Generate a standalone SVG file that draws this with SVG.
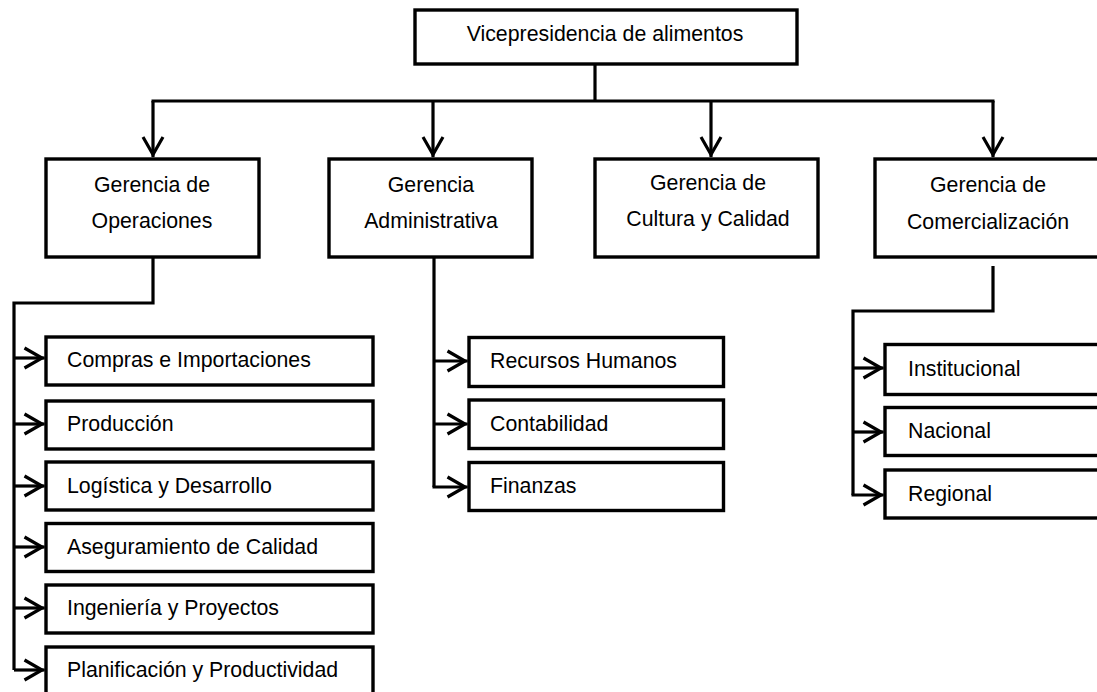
<svg xmlns="http://www.w3.org/2000/svg" width="1097" height="692" viewBox="0 0 1097 692">
  <style>
    .box { fill: #ffffff; stroke: #000000; stroke-width: 3.4; }
    .lbl { font-family: "Liberation Sans", Arial, sans-serif; font-size: 21.3px; fill: #000000; }
    .mid { text-anchor: middle; }
    .wire { fill: none; stroke: #000000; stroke-width: 3.2; stroke-linejoin: miter; }
    .arrow { marker-end: url(#chev); }
  </style>
  <defs>
    <!-- open chevron head used on every connector -->
    <marker id="chev" markerUnits="userSpaceOnUse" orient="auto" overflow="visible" markerWidth="40" markerHeight="40" refX="0" refY="0">
      <path d="M-20,-10 L-2.5,0 L-20,10" fill="none" stroke="#000000" stroke-width="3.2"/>
    </marker>
  </defs>

  <rect width="1097" height="692" fill="#ffffff"/>

  <!-- connectors -->
  <g id="connectors">
    <!-- top level fan-out -->
    <path class="wire" d="M595,64 V101"/>
    <path class="wire" d="M151.5,101 H994.5"/>
    <path class="wire arrow" d="M153,101 V157"/>
    <path class="wire arrow" d="M433,101 V157"/>
    <path class="wire arrow" d="M711,101 V157"/>
    <path class="wire arrow" d="M993,101 V157"/>

    <!-- Gerencia de Operaciones branch -->
    <path class="wire" d="M153,258 V303 H14 V358"/>
    <path class="wire arrow" d="M14,358 H44.5"/>
    <path class="wire" d="M14,358 V670"/>
    <path class="wire arrow" d="M14,424 H44.5"/>
    <path class="wire arrow" d="M14,486 H44.5"/>
    <path class="wire arrow" d="M14,547 H44.5"/>
    <path class="wire arrow" d="M14,608 H44.5"/>
    <path class="wire arrow" d="M14,670 H44.5"/>

    <!-- Gerencia Administrativa branch -->
    <path class="wire" d="M434,258 V487"/>
    <path class="wire arrow" d="M434,361 H467.5"/>
    <path class="wire arrow" d="M434,424 H467.5"/>
    <path class="wire arrow" d="M432.5,487 H467.5"/>

    <!-- Gerencia de Comercialización branch -->
    <path class="wire" d="M993,266 V311 H853 V495"/>
    <path class="wire arrow" d="M853,368 H883.5"/>
    <path class="wire arrow" d="M853,432 H883.5"/>
    <path class="wire arrow" d="M851.5,495 H883.5"/>
  </g>

  <!-- head office -->
  <g id="vicepresidencia">
    <rect class="box" x="415" y="10" width="382" height="54"/>
    <text class="lbl mid" x="605" y="41">Vicepresidencia de alimentos</text>
  </g>

  <!-- second level -->
  <g id="gerencia-operaciones">
    <rect class="box" x="46" y="159" width="213" height="98"/>
    <text class="lbl mid" x="152" y="192">Gerencia de</text>
    <text class="lbl mid" x="152" y="228">Operaciones</text>
  </g>
  <g id="gerencia-administrativa">
    <rect class="box" x="329" y="159" width="203" height="98"/>
    <text class="lbl mid" x="431" y="192">Gerencia</text>
    <text class="lbl mid" x="431" y="228">Administrativa</text>
  </g>
  <g id="gerencia-cultura">
    <rect class="box" x="595" y="159" width="223" height="98"/>
    <text class="lbl mid" x="708" y="190">Gerencia de</text>
    <text class="lbl mid" x="708" y="226">Cultura y Calidad</text>
  </g>
  <g id="gerencia-comercializacion">
    <rect class="box" x="875" y="159" width="240" height="98"/>
    <text class="lbl mid" x="988" y="192">Gerencia de</text>
    <text class="lbl mid" x="988" y="229">Comercialización</text>
  </g>

  <!-- Operaciones units -->
  <g id="compras">
    <rect class="box" x="46" y="337" width="327" height="48"/>
    <text class="lbl" x="67" y="367">Compras e Importaciones</text>
  </g>
  <g id="produccion">
    <rect class="box" x="46" y="401" width="327" height="48"/>
    <text class="lbl" x="67" y="431">Producción</text>
  </g>
  <g id="logistica">
    <rect class="box" x="46" y="462" width="327" height="48"/>
    <text class="lbl" x="67" y="493">Logística y Desarrollo</text>
  </g>
  <g id="aseguramiento">
    <rect class="box" x="46" y="523.5" width="327" height="48"/>
    <text class="lbl" x="67" y="554">Aseguramiento de Calidad</text>
  </g>
  <g id="ingenieria">
    <rect class="box" x="46" y="585" width="327" height="48"/>
    <text class="lbl" x="67" y="615">Ingeniería y Proyectos</text>
  </g>
  <g id="planificacion">
    <rect class="box" x="46" y="647" width="327" height="60"/>
    <text class="lbl" x="67" y="677">Planificación y Productividad</text>
  </g>

  <!-- Administrativa units -->
  <g id="recursos-humanos">
    <rect class="box" x="469" y="337.5" width="254.5" height="49"/>
    <text class="lbl" x="490" y="368">Recursos Humanos</text>
  </g>
  <g id="contabilidad">
    <rect class="box" x="469" y="400" width="254.5" height="48.5"/>
    <text class="lbl" x="490" y="431">Contabilidad</text>
  </g>
  <g id="finanzas">
    <rect class="box" x="469" y="462.5" width="254.5" height="48"/>
    <text class="lbl" x="490" y="493">Finanzas</text>
  </g>

  <!-- Comercialización units -->
  <g id="institucional">
    <rect class="box" x="885" y="344.5" width="240" height="50"/>
    <text class="lbl" x="908" y="376">Institucional</text>
  </g>
  <g id="nacional">
    <rect class="box" x="885" y="407.5" width="240" height="48"/>
    <text class="lbl" x="908" y="438">Nacional</text>
  </g>
  <g id="regional">
    <rect class="box" x="885" y="470" width="240" height="48"/>
    <text class="lbl" x="908" y="501">Regional</text>
  </g>
</svg>
